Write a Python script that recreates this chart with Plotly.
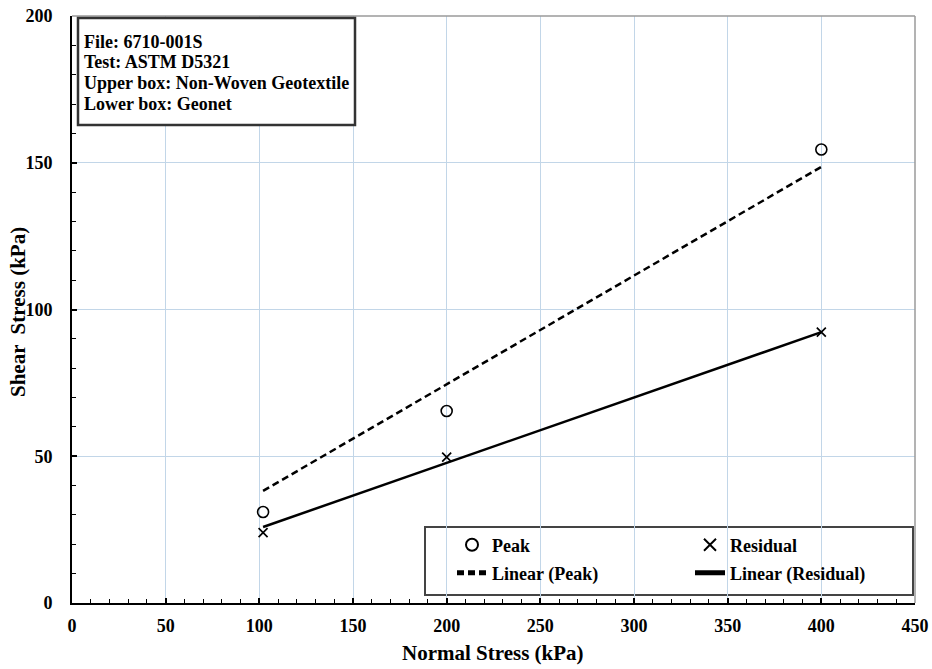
import plotly.graph_objects as go

# ---- data ----
normal_stress = [102, 200, 400]
peak_shear = [31, 65.4, 154.5]
residual_shear = [24, 49.7, 92.3]

fit_x = [102, 400]
peak_fit = [38.2, 148.6]
residual_fit = [25.9, 92.3]

x_ticks = [0, 50, 100, 150, 200, 250, 300, 350, 400, 450]
y_ticks = [0, 50, 100, 150, 200]

info_lines = ["File: 6710-001S", "Test: ASTM D5321",
              "Upper box: Non-Woven Geotextile", "Lower box: Geonet"]

FONT = "Liberation Serif"

fig = go.Figure()

fig.add_trace(go.Scatter(
    x=normal_stress, y=peak_shear, mode="markers", name="Peak",
    marker=dict(symbol="circle-open", size=11, color="black",
                line=dict(width=1.6, color="black")), legend="legend",
    showlegend=True))
fig.add_trace(go.Scatter(
    x=normal_stress, y=residual_shear, mode="markers", name="Residual",
    marker=dict(symbol="x-thin-open", size=9, color="black",
                line=dict(width=1.7, color="black")), legend="legend2",
    showlegend=True))
fig.add_trace(go.Scatter(
    x=fit_x, y=peak_fit, mode="lines", name="Linear (Peak)",
    line=dict(color="black", width=2.5, dash="7px,4px"), legend="legend3",
    showlegend=True))
fig.add_trace(go.Scatter(
    x=fit_x, y=residual_fit, mode="lines", name="Linear (Residual)",
    line=dict(color="black", width=2.5), legend="legend4",
    showlegend=True))

# pixel -> paper helpers (plot area l=72, r=915, t=16, b=603)
L, R, T, B = 72, 915, 16, 603
def px(x):
    return (x - L) / (R - L)
def py(y):
    return (B - y) / (B - T)

leg_font = dict(family=FONT, size=18, color="black", weight="bold")
def leg(x, y):
    return dict(x=px(x), y=py(y), xanchor="left", yanchor="middle",
                bgcolor="rgba(0,0,0,0)", borderwidth=0, font=leg_font,
                itemsizing="constant")

annotations = []
for t, yy in zip(info_lines, [42, 62, 83, 104]):
    annotations.append(dict(x=px(82), y=py(yy), xref="paper", yref="paper",
                            text="<b>%s</b>" % t, showarrow=False,
                            xanchor="left", yanchor="middle",
                            font=dict(family=FONT, size=18, color="black")))
annotations.append(dict(x=px(493), y=py(653), xref="paper", yref="paper",
                        text="<b>Normal Stress (kPa)</b>", showarrow=False,
                        xanchor="center", yanchor="middle",
                        font=dict(family=FONT, size=21, color="black")))
annotations.append(dict(x=px(18), y=py(312), xref="paper", yref="paper",
                        text="<b>Shear  Stress (kPa)</b>", showarrow=False,
                        textangle=-90, xanchor="center", yanchor="middle",
                        font=dict(family=FONT, size=21, color="black")))

shapes = [
    # top & right plot border (gray)
    dict(type="line", xref="paper", yref="paper", x0=0, x1=1, y0=1, y1=1,
         line=dict(color="#9a9a9a", width=1.5)),
    dict(type="line", xref="paper", yref="paper", x0=1, x1=1, y0=0, y1=1,
         line=dict(color="#9a9a9a", width=1.5)),
    # info box
    dict(type="rect", xref="paper", yref="paper",
         x0=px(78), x1=px(355), y0=py(125), y1=py(18),
         line=dict(color="#333333", width=2.5), fillcolor="white", layer="above"),
    # legend box
    dict(type="rect", xref="paper", yref="paper",
         x0=px(425), x1=px(913), y0=py(595), y1=py(527),
         line=dict(color="#444444", width=2), fillcolor="white", layer="below"),
]

fig.update_layout(
    width=932, height=669,
    margin=dict(l=L, r=932 - R, t=T, b=669 - B, autoexpand=False),
    paper_bgcolor="white", plot_bgcolor="white",
    showlegend=True,
    font=dict(family=FONT, color="black"),
    legend=leg(452, 545),
    legend2=leg(690, 545),
    legend3=leg(452, 573),
    legend4=leg(690, 573),
    annotations=annotations,
    shapes=shapes,
)

axis_common = dict(
    showline=True, linecolor="black", linewidth=2,
    showgrid=True, gridcolor="#c2d6e8", gridwidth=1,
    zeroline=False, ticks="inside", tickcolor="black", tickwidth=1.5,
    ticklen=5, automargin=False,
    tickfont=dict(family=FONT, size=18, color="black"),
    minor=dict(ticks="inside", ticklen=4, tickcolor="black", tickwidth=1.2,
               dtick=10, showgrid=False),
)

fig.update_xaxes(range=[0, 450], tickmode="array", tickvals=x_ticks,
                 ticktext=["<b>%d</b>" % v for v in x_ticks],
                 ticklabelstandoff=5, **axis_common)
fig.update_yaxes(range=[0, 200], tickmode="array", tickvals=y_ticks,
                 ticktext=["<b>%d</b>" % v for v in y_ticks],
                 ticklabelstandoff=14, **axis_common)

fig.write_html("out.html",
               config={"displayModeBar": False},
               post_script="document.body.style.margin='0';"
                           "document.body.style.overflow='hidden';")
